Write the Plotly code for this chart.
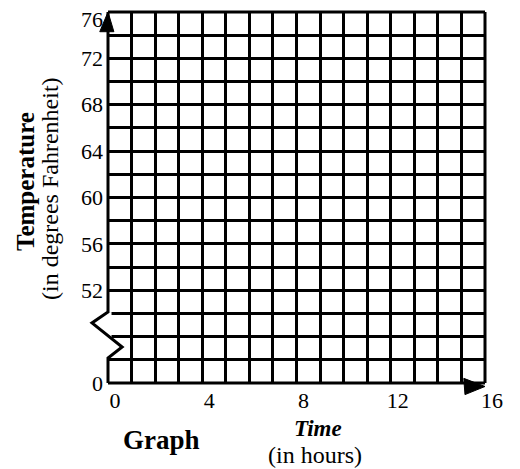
import plotly.graph_objects as go

# --- chart content (blank graph paper with a broken temperature axis) ---
n_cols = 16                      # hours shown on the time axis
n_rows = 16                      # grid rows (each 2 degrees above the break)
x_tick_vals = [0, 4, 8, 12, 16]
x_tick_text = ["0", "4", "8", "12", "16"]
y_tick_rows = [0, 4, 6, 8, 10, 12, 14, 16]          # row index of each label
y_tick_text = ["0", "52", "56", "60", "64", "68", "72", "76"]

x_title_main = "<b><i>Time</i></b>"
x_title_sub = "(in hours)"
y_title_main = "<b>Temperature</b>"
y_title_sub = "(in degrees Fahrenheit)"
caption = "<b>Graph</b>"

FONT = "Liberation Serif, Times New Roman, serif"
PAGE_OFF = 8                      # default body margin of the html page
W, H = 520 - PAGE_OFF, 469 - PAGE_OFF
L, R, T, B = 108 - PAGE_OFF, 35, 12 - PAGE_OFF, 86
LW = 3
EPS = 0.002
TOP_LABEL_DROP = 0.3             # top label sits just below the arrow tip

def px(c):  # grid column -> paper
    return c / n_cols

def py(r):  # grid row -> paper
    return r / n_rows

label_rows = [r - TOP_LABEL_DROP if r == n_rows else r for r in y_tick_rows]

fig = go.Figure()
fig.add_trace(go.Scatter(x=[0, n_cols], y=[0, n_rows], mode="markers",
                         marker=dict(opacity=0), hoverinfo="skip", showlegend=False))
fig.add_trace(go.Scatter(x=[0, n_cols], y=[0, n_rows], mode="markers", yaxis="y2",
                         marker=dict(opacity=0), hoverinfo="skip", showlegend=False))

fig.update_layout(
    xaxis=dict(range=[0, n_cols], tickmode="array", tickvals=x_tick_vals,
               ticktext=x_tick_text, zeroline=False, showline=False, ticks="",
               tickfont=dict(family=FONT, size=22, color="black"),
               ticklabelshift=7, ticklabelstandoff=2, ticklabeloverflow="allow",
               showgrid=True, gridcolor="black", gridwidth=LW,
               minor=dict(dtick=1, tick0=0, showgrid=True, gridcolor="black", gridwidth=LW),
               fixedrange=True),
    yaxis=dict(range=[-EPS, n_rows + EPS], tickmode="linear", tick0=0, dtick=1,
               showticklabels=False, zeroline=False, showline=False, ticks="",
               showgrid=True, gridcolor="black", gridwidth=LW, fixedrange=True),
    yaxis2=dict(range=[-EPS, n_rows + EPS], overlaying="y", side="left",
                tickmode="array", tickvals=label_rows, ticktext=y_tick_text,
                zeroline=False, showline=False, ticks="", showgrid=False,
                tickfont=dict(family=FONT, size=22, color="black"),
                ticklabelstandoff=4, ticklabeloverflow="allow", fixedrange=True),
)

shapes = []
shapes.append(dict(type="rect", xref="paper", yref="paper",
                   x0=px(-0.2), x1=px(0.15), y0=py(1.08), y1=py(3.06),
                   fillcolor="white", line=dict(width=0), layer="above"))
zig = [(0, n_rows), (0, 3.06), (-0.68, 2.59), (0.6, 1.55), (0, 1.08), (0, 0)]
path = "M " + " L ".join(f"{px(a):.5f},{py(b):.5f}" for a, b in zig)
shapes.append(dict(type="path", xref="paper", yref="paper", path=path,
                   line=dict(color="black", width=LW), layer="above"))
for (a0, b0, a1, b1) in [(0, n_rows, n_cols, n_rows), (n_cols, n_rows, n_cols, 0), (0, 0, n_cols, 0)]:
    shapes.append(dict(type="line", xref="paper", yref="paper",
                       x0=px(a0), y0=py(b0), x1=px(a1), y1=py(b1),
                       line=dict(color="black", width=LW), layer="above"))
up = [(0, n_rows), (-0.35, 15.15), (0.25, 15.15)]
right = [(16.0, -0.15), (15.1, 0.2), (15.15, -0.5)]
for tri in (up, right):
    p = "M " + " L ".join(f"{px(a):.5f},{py(b):.5f}" for a, b in tri) + " Z"
    shapes.append(dict(type="path", xref="paper", yref="paper", path=p,
                       fillcolor="black", line=dict(color="black", width=1), layer="above"))

# positions given in page pixels of the reference, converted to paper coords
def pxp(x):
    return (x - PAGE_OFF - L) / (W - L - R)

def pyp(y):
    return (H + PAGE_OFF - B - y) / (H - T - B)

ann = [
    dict(text=y_title_main, x=pxp(25), y=pyp(182), textangle=-90, size=25),
    dict(text=y_title_sub, x=pxp(50), y=pyp(189), textangle=-90, size=24),
    dict(text=x_title_main, x=pxp(318), y=pyp(428), textangle=0, size=23),
    dict(text=x_title_sub, x=pxp(315), y=pyp(455), textangle=0, size=24),
    dict(text=caption, x=pxp(161), y=pyp(440), textangle=0, size=27),
]
for a in ann:
    fig.add_annotation(text=a["text"], x=a["x"], y=a["y"], xref="paper", yref="paper",
                       xanchor="center", yanchor="middle", showarrow=False,
                       textangle=a["textangle"],
                       font=dict(family=FONT, size=a["size"], color="black"))

fig.update_layout(width=W, height=H, margin=dict(l=L, r=R, t=T, b=B, autoexpand=False),
                  paper_bgcolor="white", plot_bgcolor="white", shapes=shapes,
                  showlegend=False)

fig.write_html("out.html", config={"displayModeBar": False})
